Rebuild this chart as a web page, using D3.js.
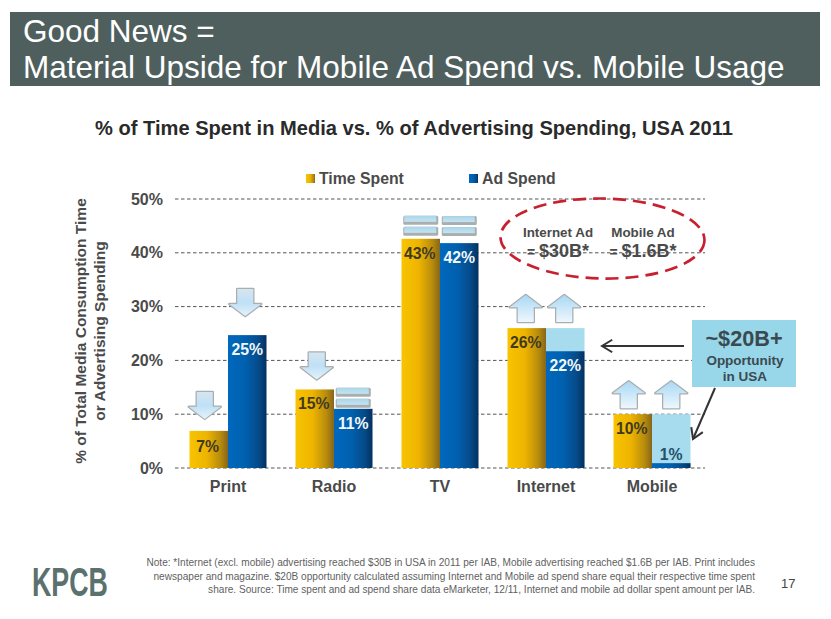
<!DOCTYPE html>
<html><head><meta charset="utf-8">
<script src="https://cdn.jsdelivr.net/npm/d3@7"></script>
<style>
html,body{margin:0;padding:0;background:#fff}
text{font-family:"Liberation Sans",Arial,sans-serif}
.axis path{display:none}
.axis line{display:none}
</style></head><body>
<svg id="c" width="831" height="619" style="display:block"></svg>
<script>
const categories = ["Print","Radio","TV","Internet","Mobile"];
const timeSpent = [6.9,14.6,42.6,26,10];
const adSpend = [24.7,11,41.8,21.7,0.9];
const timeLabels = ["7%","15%","43%","26%","10%"];
const adLabels = ["25%","11%","42%","22%","1%"];
const potentialAd = [null,null,null,26,10];
const timeTrend = ["down","down","same","up","up"];
const adTrend = ["down","same","same","up","up"];
const yTicks = [0,10,20,30,40,50];
const titleLines = ["Good News =","Material Upside for Mobile Ad Spend vs. Mobile Usage"];
const noteLines = [
 "Note: *Internet (excl. mobile) advertising reached $30B in USA in 2011 per IAB, Mobile advertising reached $1.6B per IAB. Print includes",
 "newspaper and magazine. $20B opportunity calculated assuming Internet and Mobile ad spend share equal their respective time spent",
 "share. Source: Time spent and ad spend share data eMarketer, 12/11, Internet and mobile ad dollar spent amount per IAB."];

const svg = d3.select("#c");
const defs = svg.append("defs");
function grad(id,stops,x2=1,y2=0){
  const g=defs.append("linearGradient").attr("id",id).attr("x1",0).attr("y1",0).attr("x2",x2).attr("y2",y2);
  stops.forEach(s=>g.append("stop").attr("offset",s[0]).attr("stop-color",s[1]));
}
grad("gold",[[0,"#f8c400"],[0.45,"#eeb400"],[0.8,"#b88c0c"],[1,"#86661a"]]);
grad("blue",[[0,"#0068bd"],[0.45,"#0060ae"],[0.8,"#064a88"],[1,"#03305f"]]);
grad("arrowDown",[[0,"#d5e6f0"],[0.5,"#bfe0f6"],[1,"#e4f2fb"]],0,1);
grad("arrowUp",[[0,"#a9d8f5"],[1,"#eef7fd"]],0,1);
grad("bar",[[0,"#a9d5ea"],[1,"#c6e3f0"]],0,1);

// header
svg.append("rect").attr("x",10).attr("y",12).attr("width",810).attr("height",74).attr("fill","#4f5f5e");
svg.selectAll("text.t").data(titleLines).join("text").attr("class","t")
  .attr("x",23).attr("y",(d,i)=>41.5+i*36).attr("fill","#fff").attr("font-size",31.5).text(d=>d);

svg.append("text").attr("x",414).attr("y",135).attr("text-anchor","middle")
  .attr("font-size",20.1).attr("font-weight","bold").attr("fill","#2a2a2a")
  .text("% of Time Spent in Media vs. % of Advertising Spending, USA 2011");

const x = d3.scaleBand().domain(categories).range([175,705]);
const y = d3.scaleLinear().domain([0,50]).range([468,199]);
const barW = 38.5;
const cx = c => x(c)+x.bandwidth()/2;

// grid
svg.selectAll("line.g").data(yTicks).join("line").attr("class","g")
  .attr("x1",175).attr("x2",705).attr("y1",d=>y(d)).attr("y2",d=>y(d))
  .attr("stroke","#555").attr("stroke-width",1).attr("stroke-dasharray","3.5 2.5");

// axes
const ay = svg.append("g").attr("class","axis").attr("transform","translate(163,0)")
  .call(d3.axisLeft(y).tickValues(yTicks).tickFormat(d=>d+"%").tickSize(0).tickPadding(0));
ay.selectAll("text").attr("font-size",16).attr("font-weight","bold").attr("fill","#4a4a4a")
  .style("font-family",'"Liberation Sans"');
const ax = svg.append("g").attr("class","axis").attr("transform","translate(0,478)")
  .call(d3.axisBottom(x).tickSize(0).tickPadding(0));
ax.selectAll("text").attr("font-size",16).attr("font-weight","bold").attr("fill","#4a4a4a")
  .attr("dy","0.9em").style("font-family",'"Liberation Sans"');

// y axis title
const yt = svg.append("text").attr("transform","translate(86,331) rotate(-90)").attr("text-anchor","middle")
  .attr("font-size",15.5).attr("font-weight","bold").attr("fill","#4a4a4a");
yt.append("tspan").attr("x",0).attr("y",0).text("% of Total Media Consumption Time");
yt.append("tspan").attr("x",0).attr("y",19).text("or Advertising Spending");

// legend
const lg = [["Time Spent","gold",306,319],["Ad Spend","blue",469,482]];
lg.forEach(l=>{
  svg.append("rect").attr("x",l[2]).attr("y",174).attr("width",9).attr("height",9).attr("fill",`url(#${l[1]})`);
  svg.append("text").attr("x",l[3]).attr("y",184).attr("font-size",15.8).attr("font-weight","bold").attr("fill","#4a4a4a").text(l[0]);
});

// potential caps
svg.selectAll("rect.p").data(categories.map((c,i)=>({c,v:potentialAd[i]})).filter(d=>d.v!=null)).join("rect").attr("class","p")
  .attr("x",d=>cx(d.c)).attr("width",barW).attr("y",d=>y(d.v)).attr("height",d=>y(0)-y(d.v)).attr("fill","#a6dcee");

// bars
svg.selectAll("rect.a").data(categories).join("rect").attr("class","a")
  .attr("x",d=>cx(d)-barW).attr("width",barW).attr("y",(d,i)=>y(timeSpent[i])).attr("height",(d,i)=>y(0)-y(timeSpent[i])).attr("fill","url(#gold)");
svg.selectAll("rect.b").data(categories).join("rect").attr("class","b")
  .attr("x",d=>cx(d)).attr("width",barW).attr("y",(d,i)=>y(adSpend[i])).attr("height",(d,i)=>y(0)-y(adSpend[i])).attr("fill","url(#blue)");

// bar labels
svg.selectAll("text.la").data(categories).join("text").attr("class","la")
  .attr("x",d=>cx(d)-barW/2-1).attr("y",(d,i)=>y(timeSpent[i])+(i===0?21:20)).attr("text-anchor","middle")
  .attr("font-size",15.8).attr("font-weight","bold").attr("fill","#3f3a22").text((d,i)=>timeLabels[i]);
svg.selectAll("text.lb").data(categories).join("text").attr("class","lb")
  .attr("x",d=>cx(d)+barW/2).attr("y",(d,i)=>i===4?y(adSpend[i])-3:y(adSpend[i])+20).attr("text-anchor","middle")
  .attr("font-size",15.8).attr("font-weight","bold").attr("fill",(d,i)=>i===4?"#24506a":"#f2f8fc").text((d,i)=>adLabels[i]);

// trend markers
function marker(cxp,top,kind,w,h){
  const g=svg.append("g").attr("transform",`translate(${cxp},${top})`);
  if(kind==="same"){
    [0,h/2+1].forEach(t=>{
      g.append("rect").attr("x",-w/2).attr("y",t).attr("width",w).attr("height",h/2-1).attr("rx",1.5).attr("fill","#a9aeaf");
      g.append("rect").attr("x",-w/2+1).attr("y",t).attr("width",w-3).attr("height",h/2-4).attr("fill","url(#bar)");
    });
    return;
  }
  const s=w/2, st=w/4, hh=h*0.45;
  const pts = kind==="down"
   ? [[-st,0],[st,0],[st,h-hh],[s,h-hh],[0,h],[-s,h-hh],[-st,h-hh]]
   : [[0,0],[s,hh],[st,hh],[st,h],[-st,h],[-st,hh],[-s,hh]];
  const str=pts.map(q=>q.join(",")).join(" ");
  g.append("polygon").attr("points",str).attr("fill","none").attr("stroke","#a9aeaf").attr("stroke-width",2.5).attr("stroke-linejoin","round");
  g.append("polygon").attr("points",str).attr("fill",kind==="down"?"url(#arrowDown)":"url(#arrowUp)");
}
categories.forEach((c,i)=>{
  const tx=cx(c)-barW/2, bx=cx(c)+barW/2;
  const tTop=y(timeSpent[i]), bTop=y(adSpend[i]);
  if(timeTrend[i]==="down") marker(tx+(i===0?-4:2),tTop-(i===0?39:37),"down",32,27);
  if(timeTrend[i]==="same") marker(tx,tTop-23,"same",35,20);
  if(timeTrend[i]==="up") marker(tx-(i===4?4:1),tTop-33,"up",32,27);
  if(adTrend[i]==="down") marker(bx-2,bTop-46,"down",32,27);
  if(adTrend[i]==="same") marker(bx,bTop-(i===2?27:21),"same",35,20);
  if(adTrend[i]==="up") marker(bx-(i===4?0:1),y(timeSpent[i])-33,"up",32,27);
});

// ellipse note
svg.append("ellipse").attr("cx",602.5).attr("cy",238.5).attr("rx",102).attr("ry",40)
  .attr("transform","rotate(1 602 238)").attr("fill","none").attr("stroke","#c8202e")
  .attr("stroke-width",2.7).attr("stroke-dasharray","13 7");
[["Internet Ad","= $30B*",558],["Mobile Ad","= $1.6B*",643]].forEach(d=>{
  svg.append("text").attr("x",d[2]).attr("y",237).attr("text-anchor","middle").attr("font-size",13.4).attr("font-weight","bold").attr("fill","#4a4a4a").text(d[0]);
  const tb=svg.append("text").attr("x",d[2]).attr("y",257).attr("text-anchor","middle").attr("font-size",18).attr("font-weight","bold").attr("fill","#4a4a4a");
  tb.append("tspan").text(d[1].slice(0,2)).attr("font-size",14);
  tb.append("tspan").text(d[1].slice(2));
});

// callout
svg.append("rect").attr("x",692).attr("y",320).attr("width",104).attr("height",67).attr("fill","#98d6e9");
svg.append("text").attr("x",744).attr("y",346).attr("text-anchor","middle").attr("font-size",21.7).attr("font-weight","bold").attr("fill","#3a4a50").text("~$20B+");
svg.append("text").attr("x",745).attr("y",365).attr("text-anchor","middle").attr("font-size",13.5).attr("font-weight","bold").attr("fill","#3a4a50").text("Opportunity");
svg.append("text").attr("x",745).attr("y",381).attr("text-anchor","middle").attr("font-size",13.5).attr("font-weight","bold").attr("fill","#3a4a50").text("in USA");

function arrowLine(x1,y1,x2,y2){
  svg.append("line").attr("x1",x1).attr("y1",y1).attr("x2",x2).attr("y2",y2).attr("stroke","#333").attr("stroke-width",2);
  const a=Math.atan2(y2-y1,x2-x1), L=12, sp=0.55;
  const p=(t)=>[x2-L*Math.cos(a+t),y2-L*Math.sin(a+t)];
  svg.append("path").attr("d",d3.line()([p(sp),[x2,y2],p(-sp)])).attr("fill","none").attr("stroke","#333").attr("stroke-width",2);
}
arrowLine(684,346,602,346);
arrowLine(715,388,693,439);

// footer
svg.append("g").attr("transform","translate(32,596) scale(0.67,1)").append("text")
  .attr("x",0).attr("y",0).attr("font-size",40).attr("font-weight","bold").attr("fill","#5b716e").text("KPCB");
svg.selectAll("text.n").data(noteLines).join("text").attr("class","n")
  .attr("x",755).attr("y",(d,i)=>566+i*13.5).attr("text-anchor","end").attr("font-size",10.1).attr("fill","#5f5f5f").text(d=>d);
svg.append("text").attr("x",781).attr("y",588).attr("font-size",13).attr("fill","#444").text("17");
</script>
</body></html>
